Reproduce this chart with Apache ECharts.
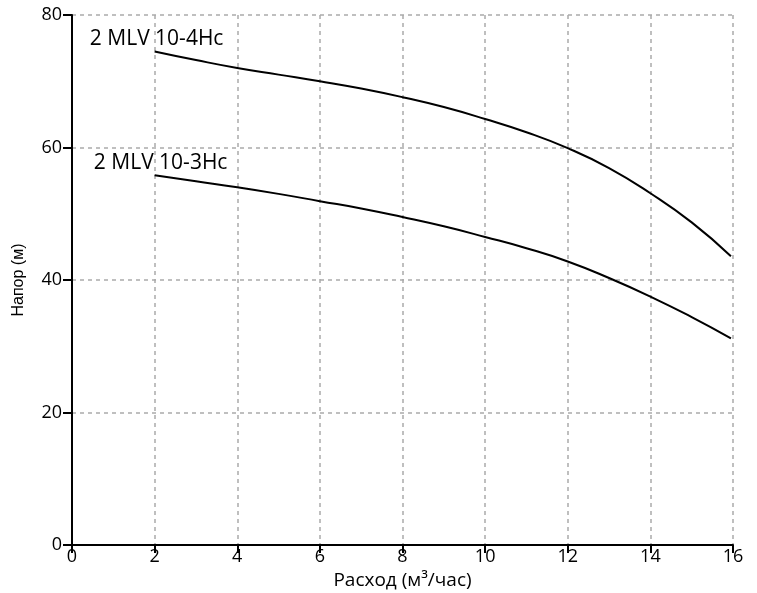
<!DOCTYPE html>
<html><head><meta charset="utf-8">
<script src="https://cdn.jsdelivr.net/npm/echarts@6/dist/echarts.min.js"></script>
<style>html,body{margin:0;padding:0;background:#fff}#c{width:757px;height:593px}</style>
</head><body><div id="c"></div>
<script>
const flowX = [2, 3, 4, 5, 6, 7, 8, 9, 10, 11, 12, 13, 14, 15, 15.95];
const head4 = [74.5, 73.2, 72.0, 71.0, 70.0, 68.9, 67.6, 66.1, 64.3, 62.3, 59.9, 56.9, 53.1, 48.7, 43.6];
const head3 = [55.8, 54.9, 54.0, 53.0, 51.9, 50.8, 49.5, 48.1, 46.5, 44.8, 42.8, 40.3, 37.5, 34.4, 31.2];
const name4 = '2 MLV 10-4Hc';
const name3 = '2 MLV 10-3Hc';
const xTitle = 'Расход (м³/час)';
const yTitle = 'Напор (м)';

const sans = "'Liberation Sans', Arial, sans-serif";
const openSans = "'Open Sans', 'Noto Sans', sans-serif";

function line(name, ys){
  return {type:'line', name:name, smooth:0.5, symbol:'none',
    lineStyle:{color:'#000', width:2},
    data: flowX.map((x,i)=>[x,ys[i]])};
}
function lab(name, ys, off){
  return {type:'scatter', symbolSize:0, silent:true,
    itemStyle:{opacity:1},
    data:[[flowX[0], ys[0]]],
    label:{show:true, formatter:name, position:'top', distance:2, offset:off,
      color:'#000', opacity:1, fontSize:21, fontFamily:openSans}};
}
const chart = echarts.init(document.getElementById('c'));
chart.setOption({
  animation:false,
  grid:{left:72, right:24, top:15, bottom:48, containLabel:false, outerBoundsMode:'none'},
  xAxis:{type:'value', min:0, max:16, interval:2,
    name:xTitle, nameLocation:'middle', nameGap:24,
    nameTextStyle:{color:'#000', fontSize:19, fontFamily:openSans},
    axisLine:{show:true, onZero:false, lineStyle:{color:'#000', width:2}},
    axisTick:{show:true, length:8, lineStyle:{color:'#000', width:2}},
    axisLabel:{color:'#000', fontSize:18, margin:3, fontFamily:openSans},
    splitLine:{show:true, lineStyle:{color:'#aaa', type:[4,4], width:1.5}}},
  yAxis:{type:'value', min:0, max:80, interval:20,
    name:yTitle, nameLocation:'middle', nameGap:45, nameRotate:90,
    nameTextStyle:{color:'#000', fontSize:16, fontFamily:sans},
    axisLine:{show:true, onZero:false, lineStyle:{color:'#000', width:2}},
    axisTick:{show:true, length:9, lineStyle:{color:'#000', width:2}},
    axisLabel:{color:'#000', fontSize:18, margin:10, fontFamily:openSans},
    splitLine:{show:true, lineStyle:{color:'#aaa', type:[4,4], width:1.5}}},
  series:[line(name4, head4), line(name3, head3), lab(name4, head4, [2,0]), lab(name3, head3, [6,0])]
});
</script></body></html>
